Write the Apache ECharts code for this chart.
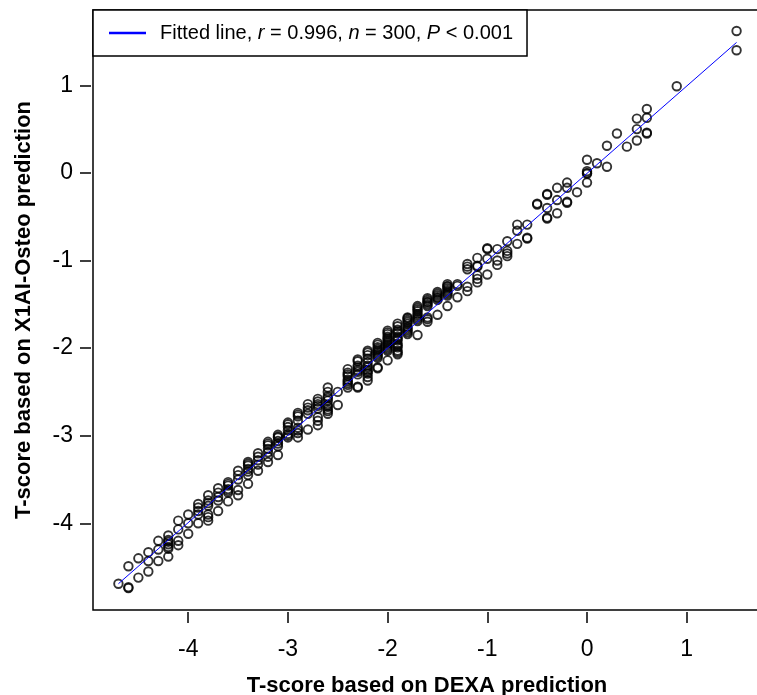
<!DOCTYPE html>
<html>
<head>
<meta charset="utf-8">
<script src="https://cdn.jsdelivr.net/npm/echarts@6/dist/echarts.min.js"></script>
<style>
  html, body { margin: 0; padding: 0; background: #fff; }
  #chart { width: 757px; height: 695px; }
</style>
</head>
<body>
<div id="chart"></div>
<script>
// DEXA T-score columns (x) and the X1AI-Osteo T-scores read at each column (y)
var dexaColumns = [-4.7, -4.6, -4.5, -4.4, -4.3, -4.2, -4.1, -4.0, -3.9, -3.8,
  -3.7, -3.6, -3.5, -3.4, -3.3, -3.2, -3.1, -3.0, -2.9, -2.8,
  -2.7, -2.6, -2.5, -2.4, -2.3, -2.2, -2.1, -2.0, -1.9, -1.8,
  -1.7, -1.6, -1.5, -1.4, -1.3, -1.2, -1.1, -1.0, -0.9, -0.8,
  -0.7, -0.6, -0.5, -0.4, -0.3, -0.2, -0.1, 0.0, 0.1, 0.2,
  0.3, 0.4, 0.5, 0.6, 0.9, 1.5];

var x1aiByColumn = [
  [-4.69],
  [-4.74, -4.73, -4.49],
  [-4.62, -4.40],
  [-4.55, -4.43, -4.33],
  [-4.43, -4.30, -4.20],
  [-4.38, -4.29, -4.27, -4.24, -4.21, -4.19, -4.14],
  [-4.25, -4.20, -4.07, -3.97],
  [-4.12, -4.00, -3.90],
  [-4.00, -3.90, -3.86, -3.82, -3.78],
  [-3.97, -3.93, -3.90, -3.80, -3.77, -3.74, -3.68],
  [-3.86, -3.74, -3.70, -3.65, -3.60],
  [-3.75, -3.65, -3.63, -3.61, -3.57, -3.55, -3.53],
  [-3.68, -3.62, -3.50, -3.45, -3.40],
  [-3.55, -3.45, -3.41, -3.38, -3.34, -3.32, -3.30],
  [-3.40, -3.33, -3.28, -3.24, -3.20],
  [-3.30, -3.24, -3.19, -3.15, -3.11, -3.09, -3.07],
  [-3.22, -3.12, -3.09, -3.06, -3.02, -3.01, -2.99],
  [-3.02, -3.00, -2.98, -2.94, -2.90, -2.87, -2.85],
  [-3.02, -2.97, -2.94, -2.91, -2.83, -2.78, -2.76, -2.74],
  [-2.93, -2.75, -2.71, -2.68, -2.64],
  [-2.88, -2.83, -2.79, -2.69, -2.66, -2.64, -2.61, -2.58],
  [-2.75, -2.72, -2.70, -2.67, -2.65, -2.60, -2.57, -2.55, -2.50, -2.45],
  [-2.65, -2.50],
  [-2.45, -2.42, -2.40, -2.38, -2.36, -2.32, -2.30, -2.28, -2.24],
  [-2.45, -2.44, -2.30, -2.27, -2.25, -2.22, -2.20, -2.15, -2.13],
  [-2.37, -2.33, -2.29, -2.27, -2.25, -2.22, -2.20, -2.16, -2.12, -2.08, -2.05, -2.03],
  [-2.23, -2.22, -2.11, -2.09, -2.07, -2.05, -2.03, -2.01, -1.99, -1.96, -1.94],
  [-2.14, -2.03, -2.01, -1.99, -1.97, -1.95, -1.93, -1.91, -1.89, -1.87, -1.84, -1.82, -1.80],
  [-2.07, -2.05, -2.03, -1.99, -1.97, -1.95, -1.91, -1.89, -1.87, -1.83, -1.81, -1.79, -1.75, -1.72],
  [-1.84, -1.82, -1.80, -1.78, -1.76, -1.72, -1.70, -1.68, -1.66, -1.65],
  [-1.85, -1.69, -1.67, -1.65, -1.63, -1.61, -1.58, -1.56, -1.54, -1.52],
  [-1.70, -1.67, -1.65, -1.52, -1.50, -1.48, -1.47, -1.45, -1.43],
  [-1.62, -1.45, -1.43, -1.42, -1.40, -1.38, -1.36],
  [-1.52, -1.40, -1.38, -1.36, -1.34, -1.32, -1.30, -1.29, -1.27],
  [-1.42, -1.29, -1.27],
  [-1.35, -1.30, -1.10, -1.07, -1.04],
  [-1.25, -1.21, -1.17, -1.07, -1.06, -0.97],
  [-1.16, -0.98, -0.87, -0.86],
  [-1.05, -1.00, -0.87],
  [-0.95, -0.92, -0.89, -0.78],
  [-0.81, -0.66, -0.59],
  [-0.75, -0.74, -0.59],
  [-0.36, -0.35],
  [-0.52, -0.51, -0.40, -0.25, -0.24],
  [-0.46, -0.31, -0.17],
  [-0.34, -0.33, -0.17, -0.11],
  [-0.22],
  [-0.11, -0.01, 0.00, 0.02, 0.15],
  [0.11],
  [0.07, 0.31],
  [0.45],
  [0.30],
  [0.37, 0.50, 0.62],
  [0.45, 0.46, 0.63, 0.73],
  [0.99],
  [1.40, 1.62]
];

// fitted line end points
var fitX = [-4.7, 1.5];
var fitY = [-4.69, 1.49];

var tickValues = [-4, -3, -2, -1, 0, 1];
var legendLabel = 'Fitted line';

var font = '"Liberation Sans", Arial, Helvetica, sans-serif';

var points = [];
dexaColumns.forEach(function (x, i) {
  x1aiByColumn[i].forEach(function (y) {
    points.push([x, y]);
  });
});
var fitData = fitX.map(function (x, i) { return [x, fitY[i]]; });

var chart = echarts.init(document.getElementById('chart'));
chart.setOption({
  animation: false,
  backgroundColor: '#fff',
  grid: {
    left: 93,
    top: 10,
    width: 668,
    height: 600,
    outerBoundsMode: 'none',
    containLabel: false,
    show: true,
    borderColor: '#000',
    borderWidth: 1.5,
    backgroundColor: 'transparent'
  },
  legend: {
    left: 93,
    top: 10,
    orient: 'horizontal',
    data: [{ name: legendLabel, icon: 'rect' }],
    backgroundColor: '#fff',
    borderColor: '#000',
    borderWidth: 1.5,
    borderRadius: 0,
    padding: [13, 14, 13, 16],
    itemWidth: 37,
    itemHeight: 2.5,
    itemStyle: { color: '#0000ff', borderWidth: 0 },
    formatter: function () {
      return '{a|Fitted line, }{i|r}{a| = 0.996, }{i|n}{a| = 300, }{i|P}{a| < 0.001}';
    },
    textStyle: {
      color: '#000',
      fontFamily: font,
      fontSize: 20,
      padding: [0, 0, 0, 9],
      rich: {
        a: { fontFamily: font, fontSize: 20, color: '#000' },
        i: { fontFamily: font, fontSize: 20, color: '#000', fontStyle: 'italic' }
      }
    }
  },
  xAxis: {
    type: 'value',
    min: -4.955,
    max: 1.745,
    offset: 2,
    name: 'T-score based on DEXA prediction',
    nameLocation: 'middle',
    nameGap: 63,
    nameTextStyle: { fontFamily: font, fontSize: 22, fontWeight: 'bold', color: '#000' },
    axisLine: { show: false, onZero: false },
    splitLine: { show: false },
    axisTick: {
      show: true,
      length: 11,
      customValues: tickValues,
      lineStyle: { color: '#000', width: 1.5 }
    },
    axisLabel: {
      customValues: tickValues,
      margin: 26,
      fontFamily: font,
      fontSize: 23,
      color: '#000'
    }
  },
  yAxis: {
    type: 'value',
    min: -4.99,
    max: 1.86,
    offset: 2,
    name: 'T-score based on X1AI-Osteo prediction',
    nameLocation: 'middle',
    nameGap: 56,
    nameTextStyle: { fontFamily: font, fontSize: 22, fontWeight: 'bold', color: '#000' },
    axisLine: { show: false, onZero: false },
    splitLine: { show: false },
    axisTick: {
      show: true,
      length: 11,
      customValues: tickValues,
      lineStyle: { color: '#000', width: 1.5 }
    },
    axisLabel: {
      customValues: tickValues,
      margin: 18,
      fontFamily: font,
      fontSize: 23,
      color: '#000'
    }
  },
  series: [
    {
      name: 'points',
      type: 'scatter',
      data: points,
      symbol: 'circle',
      symbolSize: 8.5,
      itemStyle: {
        color: 'transparent',
        borderColor: '#000',
        borderWidth: 1.9
      },
      z: 2
    },
    {
      name: legendLabel,
      type: 'line',
      data: fitData,
      symbol: 'none',
      lineStyle: { color: '#0000ff', width: 1 },
      z: 3
    }
  ]
});
</script>
</body>
</html>
